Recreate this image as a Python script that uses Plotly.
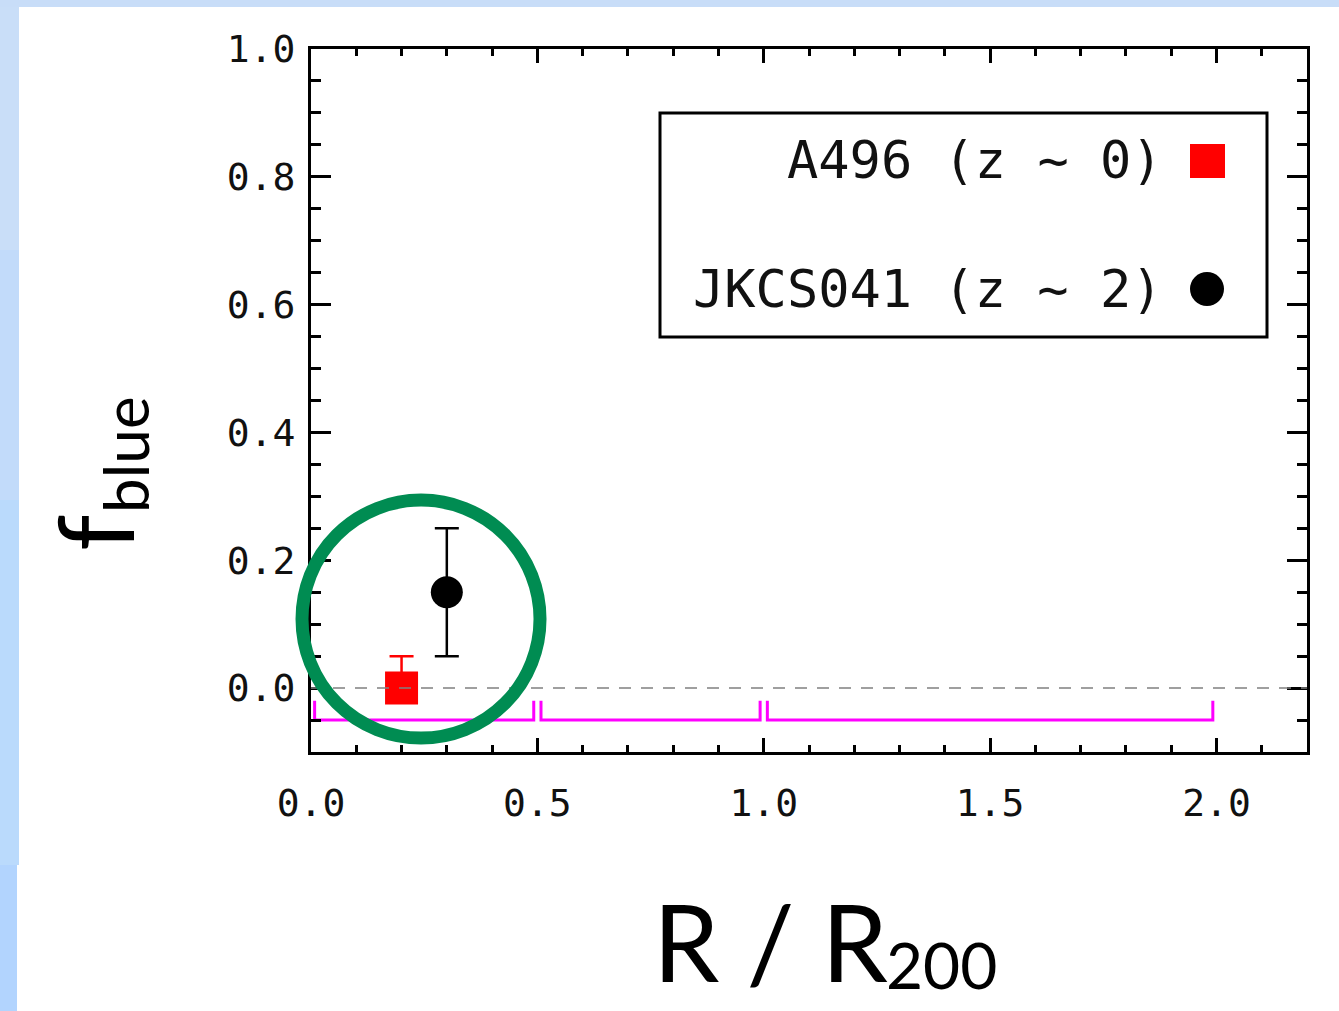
import plotly.graph_objects as go

# ---------------- data ----------------
a496_x = [0.20]
a496_y = [0.00]
a496_err_up = [0.05]
a496_err_dn = [0.0]

jk_x = [0.30]
jk_y = [0.15]
jk_err = [0.10]

bin_lo = [0.0, 0.5, 1.0]
bin_hi = [0.5, 1.0, 2.0]
bin_level = -0.05
bin_arm = -0.02

legend_labels = ["A496 (z ~ 0)", "JKCS041 (z ~ 2)"]

xtick_vals = [0.0, 0.5, 1.0, 1.5, 2.0]
ytick_vals = [0.0, 0.2, 0.4, 0.6, 0.8, 1.0]

highlight_center = (0.243, 0.108)   # data coords of green circle centre

# ---------------- geometry ----------------
W, H = 1339, 1011
ML, MR, MT, MB = 311, 32, 49, 259
PW, PH = W - ML - MR, H - MT - MB
XR = [0.0, 2.2]
YR = [-0.1, 1.0]


def px_x(px):
    return (px - ML) / PW


def px_y(py):
    return (H - MB - py) / PH


def dx(x):
    return (x - XR[0]) / (XR[1] - XR[0])


def dy(y):
    return (y - YR[0]) / (YR[1] - YR[0])


MONO = "DejaVu Sans Mono"
SANS = "Lato"

fig = go.Figure()

# magenta bin brackets
inset = 0.008
for lo, hi in zip(bin_lo, bin_hi):
    fig.add_trace(go.Scatter(
        x=[lo + inset, lo + inset, hi - inset, hi - inset],
        y=[bin_arm, bin_level, bin_level, bin_arm],
        mode="lines", line=dict(color="#ff00ff", width=3),
        showlegend=False, hoverinfo="skip", cliponaxis=False))

# A496 red square
fig.add_trace(go.Scatter(
    x=a496_x, y=a496_y, mode="markers",
    marker=dict(symbol="square", size=33, color="#ff0000"),
    error_y=dict(type="data", symmetric=False, array=a496_err_up,
                 arrayminus=a496_err_dn, color="#ff0000", thickness=2.5, width=12),
    showlegend=False, cliponaxis=False))

# JKCS041 black circle
fig.add_trace(go.Scatter(
    x=jk_x, y=jk_y, mode="markers",
    marker=dict(symbol="circle", size=32, color="#000000"),
    error_y=dict(type="data", array=jk_err, color="#000000", thickness=2.5, width=12),
    showlegend=False, cliponaxis=False))

shapes = []

# background blue strips (page decoration)
strips = [
    (0, 19, 0, 250, "#c9def8"),
    (0, 19, 250, 500, "#c2dbfa"),
    (0, 19, 500, 865, "#badafc"),
    (0, 17, 865, 1011, "#b2d4fe"),
    (0, W, 0, 7, "#c8ddf8"),
]
for x0, x1, y0, y1, c in strips:
    shapes.append(dict(type="rect", xref="paper", yref="paper",
                       x0=px_x(x0), x1=px_x(x1), y0=px_y(y1), y1=px_y(y0),
                       fillcolor=c, line=dict(width=0), layer="below"))

# dashed zero line
shapes.append(dict(type="line", xref="paper", yref="y", x0=0, x1=1, y0=0, y1=0,
                   line=dict(color="#808080", width=1.5, dash="12px,10px"), layer="above"))

# green highlight circle
cx, cy = highlight_center
pcx = ML + dx(cx) * PW
pcy = H - MB - dy(cy) * PH
R = 119
shapes.append(dict(type="circle", xref="paper", yref="paper",
                   x0=px_x(pcx - R), x1=px_x(pcx + R),
                   y0=px_y(pcy + R), y1=px_y(pcy - R),
                   line=dict(color="#008c52", width=13), layer="above"))

# legend box
shapes.append(dict(type="rect", xref="paper", yref="paper",
                   x0=px_x(660), x1=px_x(1267), y0=px_y(337), y1=px_y(113),
                   line=dict(color="black", width=3), fillcolor="white", layer="above"))
# legend symbols
shapes.append(dict(type="rect", xref="paper", yref="paper",
                   x0=px_x(1190), x1=px_x(1225), y0=px_y(178), y1=px_y(144),
                   line=dict(width=0), fillcolor="#ff0000", layer="above"))
shapes.append(dict(type="circle", xref="paper", yref="paper",
                   x0=px_x(1190), x1=px_x(1224), y0=px_y(306), y1=px_y(272),
                   line=dict(width=0), fillcolor="#000000", layer="above"))

annotations = []
for lab, py in zip(legend_labels, [160, 289]):
    annotations.append(dict(text=lab, xref="paper", yref="paper",
                            x=px_x(1165), y=px_y(py), xanchor="right", yanchor="middle",
                            showarrow=False, font=dict(family=MONO, size=52, color="#111111")))

# axis titles
annotations.append(dict(text="R / R", xref="paper", yref="paper",
                        x=px_x(890), y=px_y(941), xanchor="right", yanchor="middle",
                        showarrow=False, font=dict(family=SANS, size=106, color="black")))
annotations.append(dict(text="200", xref="paper", yref="paper",
                        x=px_x(884), y=px_y(965), xanchor="left", yanchor="middle",
                        showarrow=False, font=dict(family=SANS, size=64, color="black")))
annotations.append(dict(text="f", xref="paper", yref="paper", textangle=-90,
                        x=px_x(93), y=px_y(533), xanchor="center", yanchor="middle",
                        showarrow=False, font=dict(family=SANS, size=104, color="black")))
annotations.append(dict(text="blue", xref="paper", yref="paper", textangle=-90,
                        x=px_x(125), y=px_y(455), xanchor="center", yanchor="middle",
                        showarrow=False, font=dict(family=SANS, size=62, color="black")))

axis_common = dict(showline=True, linewidth=3, linecolor="black", mirror="allticks",
                   ticks="inside", tickcolor="black", tickwidth=2.5,
                   showgrid=False, zeroline=False,
                   tickfont=dict(family=MONO, size=38, color="#111111"),
                   tickformat=".1f")

fig.update_xaxes(range=XR, tickmode="array", tickvals=xtick_vals, ticklen=14,
                 minor=dict(tickmode="linear", tick0=0, dtick=0.1, ticklen=7,
                            tickwidth=2.5, ticks="inside", tickcolor="black"),
                 ticklabelstandoff=15, **axis_common)
fig.update_yaxes(range=YR, tickmode="array", tickvals=ytick_vals, ticklen=20,
                 minor=dict(tickmode="linear", tick0=0, dtick=0.05, ticklen=10,
                            tickwidth=2.5, ticks="inside", tickcolor="black"),
                 ticklabelstandoff=5, **axis_common)

fig.update_layout(width=W, height=H,
                  margin=dict(l=ML, r=MR, t=MT, b=MB, pad=0),
                  paper_bgcolor="white", plot_bgcolor="white",
                  shapes=shapes, annotations=annotations, showlegend=False)

fig.write_html("out.html", config={"displayModeBar": False},
               post_script="document.body.style.margin='0';document.body.style.overflow='hidden';")
